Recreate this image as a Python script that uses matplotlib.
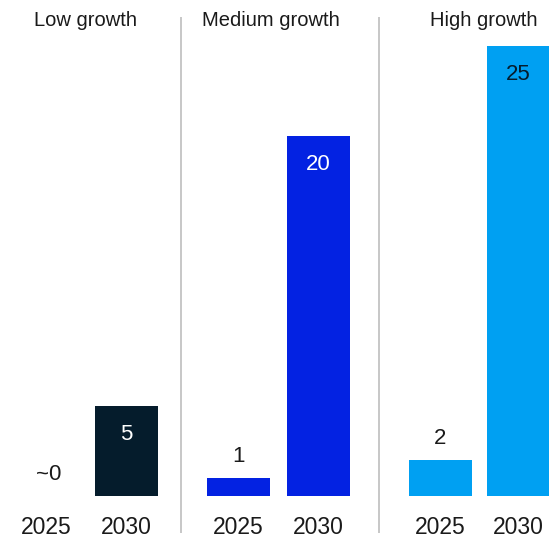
import matplotlib.pyplot as plt

plt.rcParams['font.family'] = ['Liberation Sans', 'DejaVu Sans']

# escenarios y valores por año
escenarios = ['Low growth', 'Medium growth', 'High growth']
anios = ['2025', '2030']
valores = {
    'Low growth': [0, 5],
    'Medium growth': [1, 20],
    'High growth': [2, 25],
}
etiquetas = {
    'Low growth': ['~0', '5'],
    'Medium growth': ['1', '20'],
    'High growth': ['2', '25'],
}
colores = {'Low growth': '#051c2c', 'Medium growth': '#0322e2', 'High growth': '#00a0f2'}

# posiciones horizontales de cada grupo (coordenadas del eje)
pos_barras = {
    'Low growth': [46, 126.5],
    'Medium growth': [238.5, 318.5],
    'High growth': [440, 518.5],
}
pos_titulo = {'Low growth': 85, 'Medium growth': 271, 'High growth': 484}
separadores = [181, 379]
ancho = 63
escala = 18.0  # px por unidad

fig = plt.figure(figsize=(5.49, 5.40), dpi=100)
ax = fig.add_axes([0, 0, 1, 1])
ax.set_xlim(0, 549)
ax.set_ylim(-44 / escala, 496 / escala)
ax.axis('off')

for esc in escenarios:
    xs = pos_barras[esc]
    vals = valores[esc]
    ax.bar(xs, vals, width=ancho, color=colores[esc], align='center')
    for i, (x, v, txt) in enumerate(zip(xs, vals, etiquetas[esc])):
        if v >= 5:
            # etiqueta dentro de la barra
            col = '#051c2c' if esc == 'High growth' else 'white'
            ax.text(x, v - 29 / escala, txt, ha='center', va='center',
                    fontsize=16, color=col)
        else:
            # ~0 queda un poco a la derecha del centro
            dx = 3 if txt.startswith('~') else 0
            ax.text(x + dx, v + 22 / escala, txt, ha='center', va='center',
                    fontsize=16, color='#1a1a1a')
        ax.text(x, -31 / escala, anios[i], ha='center', va='center',
                fontsize=16.5, color='#1a1a1a')
    ax.text(pos_titulo[esc], 476 / escala, esc, ha='center', va='center',
            fontsize=14.5, color='#1a1a1a')

ax.vlines(separadores, -37 / escala, 479 / escala, color='#bdbdbd', linewidth=1.2)

fig.savefig('out.png', dpi=100)
